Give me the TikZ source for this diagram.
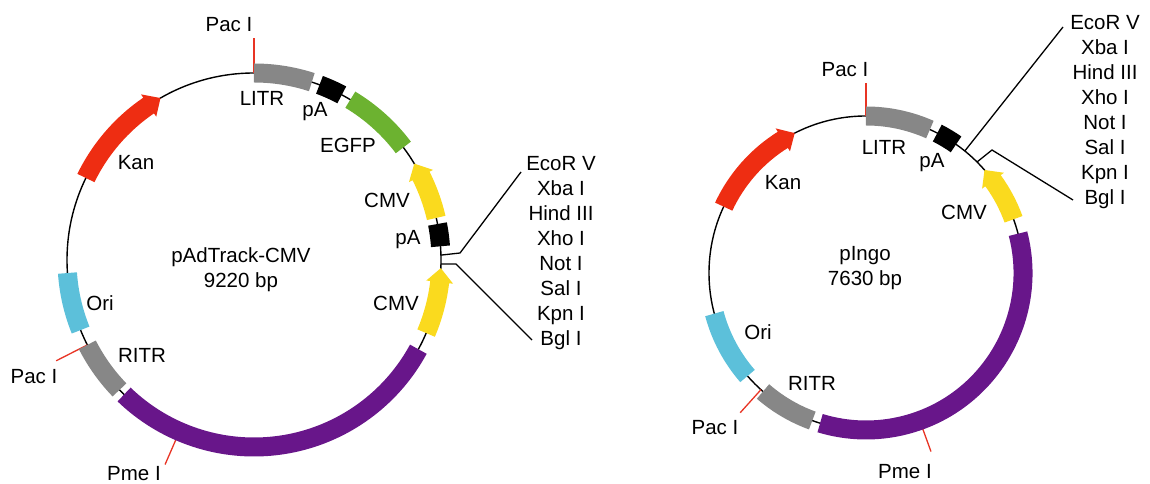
\documentclass[tikz,border=0pt]{standalone}
\usepackage{fontspec}
\setmainfont{Liberation Sans}
\usepackage{tikz}
\definecolor{kanred}{RGB}{238,45,18}
\definecolor{itrgrey}{RGB}{135,135,135}
\definecolor{gfpgreen}{RGB}{108,178,48}
\definecolor{cmvyellow}{RGB}{250,218,30}
\definecolor{oricyan}{RGB}{92,192,218}
\definecolor{insertpurple}{RGB}{104,22,138}
\definecolor{sitered}{RGB}{232,52,36}
\tikzstyle{Backbone}=[line width=1.4pt, draw=black]
\tikzstyle{Site}=[line width=1.3pt, draw=sitered]
\tikzstyle{Link}=[line width=1.3pt, draw=black]
\tikzstyle{Tag}=[font=\fontsize{20.5}{25}\selectfont, inner sep=0pt]
\tikzstyle{Sites}=[Tag, align=center]
% colour, radius, from, to
\newcommand{\genebox}[4]{\draw[line width=19pt, draw=#1] (#3:#2) arc[start angle=#3, end angle=#4, radius=#2];}
% colour, radius, from, tip, head
\newcommand{\genearrow}[5]{\fill[#1] (#3:{#2-9.5}) -- (#3:{#2+9.5})
    arc[start angle=#3, end angle={#4-(#5)}, radius={#2+9.5}]
    -- ({#4-(#5)}:{#2+13.5}) -- (#4:#2) -- ({#4-(#5)}:{#2-13.5})
    -- ({#4-(#5)}:{#2-9.5})
    arc[start angle={#4-(#5)}, end angle=#3, radius={#2-9.5}] -- cycle;}

\begin{document}
\begin{tikzpicture}[x=1pt, y=1pt]
    \useasboundingbox (0,0) rectangle (1150,484);

    % pAdTrack-CMV
    \begin{scope}[shift={(254,224)}]
        \draw[Backbone] (0,0) circle[radius=187];
        \draw[Site] (90:187) -- (90:222);
        \draw[Site] (207:187) -- (207:222);
        \draw[Site] (246.5:187) -- (246.5:223);
        \genebox{itrgrey}{187}{90}{72}
        \genebox{black}{187}{69.5}{62}
        \genebox{gfpgreen}{187}{59}{37}
        \genearrow{cmvyellow}{187}{13}{31}{4.3}
        \genebox{black}{187}{11.1}{4.2}
        \genearrow{cmvyellow}{187}{-23}{-2.5}{4.3}
        \genebox{insertpurple}{187}{-28.5}{-134}
        \genebox{itrgrey}{187}{207}{224}
        \genebox{oricyan}{187}{184}{202}
        \genearrow{kanred}{187}{154}{120}{-4.3}
        \coordinate (mcsA1) at (1.5:187);
        \coordinate (mcsA2) at (-1.2:187);
    \end{scope}

    % pIngo
    \begin{scope}[shift={(866,211)}]
        \draw[Backbone] (0,0) circle[radius=157];
        \draw[Site] (90:157) -- (90:190);
        \draw[Site] (228:157) -- (228:188);
        \draw[Site] (-70:157) -- (-70:190);
        \genebox{itrgrey}{157}{90}{66}
        \genebox{black}{157}{63}{55}
        \genearrow{cmvyellow}{157}{20}{41}{5}
        \genebox{insertpurple}{157}{14.5}{-107}
        \genebox{itrgrey}{157}{229}{250}
        \genebox{oricyan}{157}{195}{221}
        \genearrow{kanred}{157}{155}{117}{-5}
        \coordinate (mcsB1) at (51:157);
        \coordinate (mcsB2) at (45:157);
    \end{scope}

    \path
    (229,459) node[Tag] (pacTopA) {Pac I}
    (262,386) node[Tag] (litrA) {LITR}
    (315,372) node[Tag] (pAupA) {pA}
    (348,339) node[Tag] (egfpA) {EGFP}
    (387,284) node[Tag] (cmvUpA) {CMV}
    (408,244) node[Tag] (pAlowA) {pA}
    (396,181) node[Tag] (cmvLowA) {CMV}
    (136,321) node[Tag] (kanA) {Kan}
    (100,181) node[Tag] (oriA) {Ori}
    (142,129) node[Tag] (ritrA) {RITR}
    (34,107) node[Tag] (pacLeftA) {Pac I}
    (134,10) node[Tag] (pmeA) {Pme I}
    (241,214) node[Sites] (nameA) {pAdTrack-CMV\\9220 bp}
    (561,230.5) node[Sites] (listA) {EcoR V\\Xba I\\Hind III\\Xho I\\Not I\\Sal I\\Kpn I\\Bgl I};

    \path
    (845,414) node[Tag] (pacTopB) {Pac I}
    (884,337) node[Tag] (litrB) {LITR}
    (932,321) node[Tag] (pAB) {pA}
    (964,272) node[Tag] (cmvB) {CMV}
    (783,301) node[Tag] (kanB) {Kan}
    (758,152) node[Tag] (oriB) {Ori}
    (812,101) node[Tag] (ritrB) {RITR}
    (715,56) node[Tag] (pacLeftB) {Pac I}
    (905,12) node[Tag] (pmeB) {Pme I}
    (865,215.5) node[Sites] (nameB) {pIngo\\7630 bp}
    (1105,371.5) node[Sites] (listB) {EcoR V\\Xba I\\Hind III\\Xho I\\Not I\\Sal I\\Kpn I\\Bgl I};

    \coordinate (kinkA1) at (460,231);
    \coordinate (endA1) at (521,312);
    \coordinate (kinkA2) at (456,220);
    \coordinate (endA2) at (532,144);
    \coordinate (endB1) at (1063,457);
    \coordinate (kinkB2) at (992,334);
    \coordinate (endB2) at (1073,284);
    \draw[Link] (mcsA1) -- (kinkA1) -- (endA1);
    \draw[Link] (mcsA2) -- (kinkA2) -- (endA2);
    \draw[Link] (mcsB1) -- (endB1);
    \draw[Link] (mcsB2) -- (kinkB2) -- (endB2);
\end{tikzpicture}
\end{document}
